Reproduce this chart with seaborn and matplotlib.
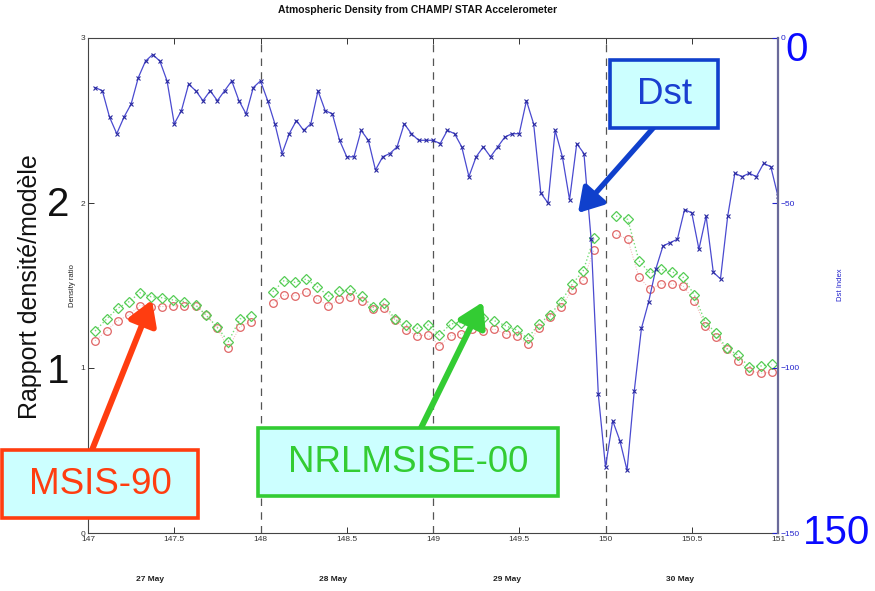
import numpy as np
import pandas as pd
import matplotlib
matplotlib.use("Agg")
import matplotlib.pyplot as plt
from matplotlib.patches import Rectangle
import seaborn as sns

# ---------------- data ----------------
# Dst index, hourly (day-of-year 147 + 1h ... 151)
dst_day147 = [-15, -16, -24, -29, -24, -20, -12, -7, -5, -7, -13, -26,
              -22, -14, -16, -19, -16, -19, -16, -13, -19, -23, -15, -13]
dst_day148 = [-19, -26, -35, -29, -25, -28, -26, -16, -22, -23, -31, -36,
              -36, -28, -31, -40, -36, -35, -33, -26, -29, -31, -31, -31]
dst_day149 = [-32, -28, -29, -33, -42, -36, -33, -36, -33, -30, -29, -29,
              -19, -26, -47, -50, -28, -36, -49, -32, -35, -61, -108, -130]
dst_day150 = [-116, -122, -131, -107, -88, -80, -70, -63, -62, -61, -52, -53,
              -64, -54, -71, -73, -54, -41, -42, -41, -42, -38, -39, -48]
dst_values = dst_day147 + dst_day148 + dst_day149 + dst_day150
dst_time = 147 + np.arange(1, len(dst_values) + 1) / 24.0

# orbit-averaged density ratio (None = data gap)
orbit_time = [147.041, 147.108, 147.172, 147.238, 147.301, 147.365, 147.427, 147.494,
              147.558, 147.624, 147.684, 147.750, 147.813, 147.881, 147.943, 148.007,
              148.071, 148.136, 148.200, 148.264, 148.329, 148.393, 148.457, 148.519,
              148.587, 148.654, 148.716, 148.780, 148.843, 148.906, 148.973, 149.037,
              149.103, 149.162, 149.228, 149.292, 149.355, 149.421, 149.485, 149.549,
              149.614, 149.678, 149.742, 149.808, 149.871, 149.933, 149.997, 150.061,
              150.129, 150.194, 150.258, 150.320, 150.384, 150.448, 150.515, 150.577,
              150.641, 150.703, 150.766, 150.832, 150.900, 150.963]
msis90_ratio = [1.165, 1.226, 1.287, 1.321, 1.378, 1.372, 1.372, 1.376,
                1.376, 1.378, 1.321, 1.241, 1.119, 1.250, 1.281, None,
                1.392, 1.442, 1.436, 1.462, 1.416, 1.378, 1.416, 1.432,
                1.406, 1.356, 1.362, 1.291, 1.230, 1.196, 1.200, 1.135,
                1.196, 1.204, 1.236, 1.226, 1.236, 1.206, 1.194, 1.145,
                1.241, 1.311, 1.372, 1.473, 1.533, 1.715, None, 1.812,
                1.780, 1.550, 1.479, 1.509, 1.509, 1.499, 1.408, 1.256,
                1.186, 1.115, 1.044, 0.984, 0.968, 0.974]
nrlmsise00_ratio = [1.224, 1.297, 1.362, 1.402, 1.456, 1.432, 1.426, 1.412,
                    1.402, 1.382, 1.321, 1.247, 1.159, 1.297, 1.317, None,
                    1.462, 1.529, 1.519, 1.539, 1.493, 1.436, 1.467, 1.473,
                    1.436, 1.368, 1.392, 1.295, 1.261, 1.241, 1.261, 1.200,
                    1.267, 1.275, 1.305, 1.305, 1.287, 1.256, 1.230, 1.180,
                    1.267, 1.321, 1.402, 1.509, 1.590, 1.786, None, 1.921,
                    1.901, 1.650, 1.574, 1.598, 1.584, 1.553, 1.442, 1.281,
                    1.210, 1.119, 1.079, 1.008, 1.012, 1.022]

x_ticks = [147, 147.5, 148, 148.5, 149, 149.5, 150, 150.5, 151]
x_ticklabels = ["147", "147.5", "148", "148.5", "149", "149.5", "150", "150.5", "151"]
day_boundaries = [148, 149, 150]
date_labels = ["27 May", "28 May", "29 May", "30 May"]
date_label_pos = [147.36, 148.42, 149.43, 150.43]
left_ticks = [0, 1, 2, 3]
right_ticks = [0, -50, -100, -150]

# ---------------- figure ----------------
sns.set_theme(style="white")
plt.rcParams["font.family"] = ["Liberation Sans", "DejaVu Sans"]

W, H = 875, 591
fig = plt.figure(figsize=(W / 100, H / 100), dpi=100)
fig.patch.set_facecolor("white")


def fx(x):
    return x / W


def fy(y):
    return 1 - y / H


ax = fig.add_axes([fx(88), fy(533), (778 - 88) / W, (533 - 38) / H])
ax.set_facecolor("white")

# segment ids to break lines at gaps
seg = []
s = 0
for v in msis90_ratio:
    if v is None:
        s += 1
    seg.append(s)
dens = pd.DataFrame({"t": orbit_time,
                     "msis": [np.nan if v is None else v for v in msis90_ratio],
                     "nrl": [np.nan if v is None else v for v in nrlmsise00_ratio],
                     "seg": seg})
dens = dens.dropna()

sns.lineplot(data=dens, x="t", y="msis", units="seg", estimator=None, ax=ax,
             color="#f4b0b0", lw=0.7, linestyle=":", marker="o", markersize=5.5,
             markerfacecolor="none", markeredgecolor="#e06666", markeredgewidth=0.9,
             sort=False, legend=False)
sns.lineplot(data=dens, x="t", y="nrl", units="seg", estimator=None, ax=ax,
             color="#77dd77", lw=1.0, linestyle=":", marker="D", markersize=4.8,
             markerfacecolor="none", markeredgecolor="#55cc55", markeredgewidth=0.9,
             sort=False, legend=False)

for d in day_boundaries:
    ax.axvline(d, color="#555555", lw=0.9, ls=(0, (6, 5)), zorder=1)

ax.set_xlim(147, 151)
ax.set_ylim(0, 3)
ax.set_xticks(x_ticks)
ax.set_xticklabels(x_ticklabels, fontsize=6)
ax.set_yticks(left_ticks)
ax.set_yticklabels([str(t) for t in left_ticks], fontsize=6)
ax.tick_params(direction="in", length=4, width=0.7, top=True, bottom=True,
               left=True, right=False, colors="#333333", pad=2)
ax.set_xlabel("")
ax.set_ylabel("")
ax.text(-0.018, 0.5, "Density ratio", transform=ax.transAxes, rotation=90,
        ha="right", va="center", fontsize=5.5, color="#222222")
for sp in ["left", "top", "bottom"]:
    ax.spines[sp].set_color("#444444")
    ax.spines[sp].set_linewidth(0.8)
ax.spines["right"].set_visible(False)

ax2 = ax.twinx()
dst_df = pd.DataFrame({"t": dst_time, "dst": dst_values})
sns.lineplot(data=dst_df, x="t", y="dst", ax=ax2, color="#4a4ad0", lw=0.9,
             marker="x", markersize=3.5, markeredgecolor="#2a2aa0",
             markeredgewidth=0.8, legend=False)
ax2.set_ylim(-150, 0)
ax2.set_yticks(right_ticks)
ax2.set_yticklabels([str(t).replace("-", "\u2212") for t in right_ticks],
                    fontsize=6, color="#2222cc")
ax2.tick_params(axis="y", direction="in", length=4, width=0.8, colors="#2222cc", pad=2)
ax2.set_ylabel("")
ax2.set_xlabel("")
ax2.spines["right"].set_color("#6a6a9a")
ax2.spines["right"].set_linewidth(1.6)
for sp in ["left", "top", "bottom"]:
    ax2.spines[sp].set_visible(False)
fig.text(fx(840), fy(285), "Dst Index", rotation=90, ha="center", va="center",
         fontsize=5.5, color="#2222cc")

# title
fig.text(fx(418), fy(10), "Atmospheric Density from CHAMP/ STAR Accelerometer",
         ha="center", va="center", fontsize=7.5, fontweight="bold", color="#111111")

# date labels
for p, lab in zip(date_label_pos, date_labels):
    ax.text(p, -0.28, lab, transform=ax.transData, ha="center", va="center",
            fontsize=6, fontweight="bold", color="#222222", clip_on=False)

# big slide overlays
fig.text(fx(30), fy(287), "Rapport densit\u00e9/mod\u00e8le", rotation=90,
         ha="center", va="center", fontsize=18, color="#111111")
fig.text(fx(58), fy(205), "2", ha="center", va="center", fontsize=29, color="#111111")
fig.text(fx(58), fy(372), "1", ha="center", va="center", fontsize=29, color="#111111")
fig.text(fx(797), fy(50), "0", ha="center", va="center", fontsize=29, color="#0a0aff")
fig.text(fx(837), fy(533), "150", ha="center", va="center", fontsize=29, color="#0a0aff")


def arrow(tail, tip, color, lw, scale):
    fig.add_artist(matplotlib.patches.FancyArrowPatch(
        (fx(tail[0]), fy(tail[1])), (fx(tip[0]), fy(tip[1])),
        transform=fig.transFigure, arrowstyle="-|>,head_length=0.9,head_width=0.55",
        mutation_scale=scale, lw=lw, color=color, shrinkA=0, shrinkB=0, zorder=5))


def box(x0, y0, x1, y1, edge, text, tcolor):
    fig.add_artist(Rectangle((fx(x0), fy(y1)), (x1 - x0) / W, (y1 - y0) / H,
                             transform=fig.transFigure, facecolor="#ccffff",
                             edgecolor=edge, lw=2.6, zorder=6))
    fig.text(fx((x0 + x1) / 2), fy((y0 + y1) / 2), text, ha="center", va="center",
             fontsize=26.5, color=tcolor, zorder=7)


arrow((655, 126), (578, 213), "#1040cc", 3.8, 16)
arrow((92, 450), (152, 300), "#ff3d10", 4.3, 16)
arrow((420, 430), (483, 302), "#33cc33", 4.3, 16)

box(610, 60, 718, 128, "#1040cc", "Dst", "#1a3fd0")
box(2, 450, 198, 518, "#ff3d10", "MSIS-90", "#ff3d10")
box(258, 428, 558, 496, "#33cc33", "NRLMSISE-00", "#33cc33")

fig.savefig("out.png", dpi=100, facecolor="white")
